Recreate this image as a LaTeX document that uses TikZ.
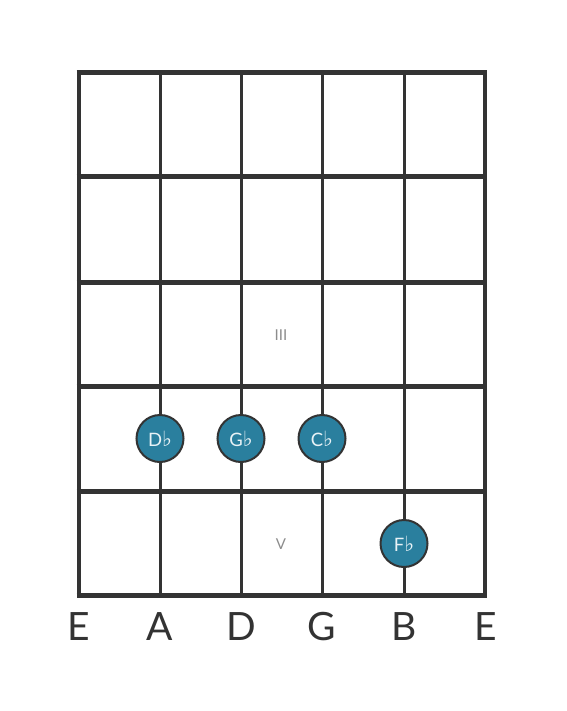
\documentclass[tikz,border=0pt]{standalone}
\usepackage{fontspec}
\setmainfont{Lato}
\newfontfamily\symfont{DejaVu Sans}
\definecolor{linec}{RGB}{51,51,51}
\definecolor{dotfill}{RGB}{42,127,158}
\definecolor{dottext}{RGB}{232,242,246}
\definecolor{numc}{RGB}{140,140,140}
\newcommand{\flt}{{\symfont\fontsize{21}{21}\selectfont ♭}}
\tikzset{
  fret/.style={draw=linec, line width=5pt},
  outerstring/.style={draw=linec, line width=4pt},
  innerstring/.style={draw=linec, line width=3pt},
  notedot/.style={circle, draw=linec, line width=2pt, fill=dotfill, minimum size=47pt, inner sep=0pt,
    text=dottext, font=\fontsize{18.5}{18.5}\selectfont},
  strlabel/.style={anchor=base, text=linec, font=\fontsize{39}{39}\selectfont, inner sep=0pt},
  posnum/.style={text=numc, font=\fontsize{15}{15}\selectfont, inner sep=0pt}
}
\begin{document}
\begin{tikzpicture}[x=1pt,y=-1pt]
\useasboundingbox (0,0) rectangle (566,711);
% strings
\coordinate (s1t) at (78.5,72); \coordinate (s1b) at (78.5,596);
\coordinate (s2t) at (160,72); \coordinate (s2b) at (160,596);
\coordinate (s3t) at (241,72); \coordinate (s3b) at (241,596);
\coordinate (s4t) at (322,72); \coordinate (s4b) at (322,596);
\coordinate (s5t) at (404,72); \coordinate (s5b) at (404,596);
\coordinate (s6t) at (485.3,72); \coordinate (s6b) at (485.3,596);
\draw[outerstring] (s1t) -- (s1b);
\draw[innerstring] (s2t) -- (s2b);
\draw[innerstring] (s3t) -- (s3b);
\draw[innerstring] (s4t) -- (s4b);
\draw[innerstring] (s5t) -- (s5b);
\draw[outerstring] (s6t) -- (s6b);
% frets
\foreach \y/\n in {73/0,177/1,282/2,386/3,491/4,595.5/5}{
  \coordinate (f\n l) at (76.5,\y);
  \coordinate (f\n r) at (487.3,\y);
  \draw[fret] (f\n l) -- (f\n r);
}
% position numbers
\node[posnum] (p3) at (281,335.5) {III};
\node[posnum] (p5) at (281,544) {V};
% notes
\node[notedot] (n1) at (160,438.5) {D\flt};
\node[notedot] (n2) at (241,438.5) {G\flt};
\node[notedot] (n3) at (322,438.5) {C\flt};
\node[notedot] (n4) at (404,543.5) {F\flt};
% string labels
\node[strlabel] (l1) at (78.5,640) {E};
\node[strlabel] (l2) at (160,640) {A};
\node[strlabel] (l3) at (241,640) {D};
\node[strlabel] (l4) at (322,640) {G};
\node[strlabel] (l5) at (404,640) {B};
\node[strlabel] (l6) at (485.3,640) {E};
\end{tikzpicture}
\end{document}
